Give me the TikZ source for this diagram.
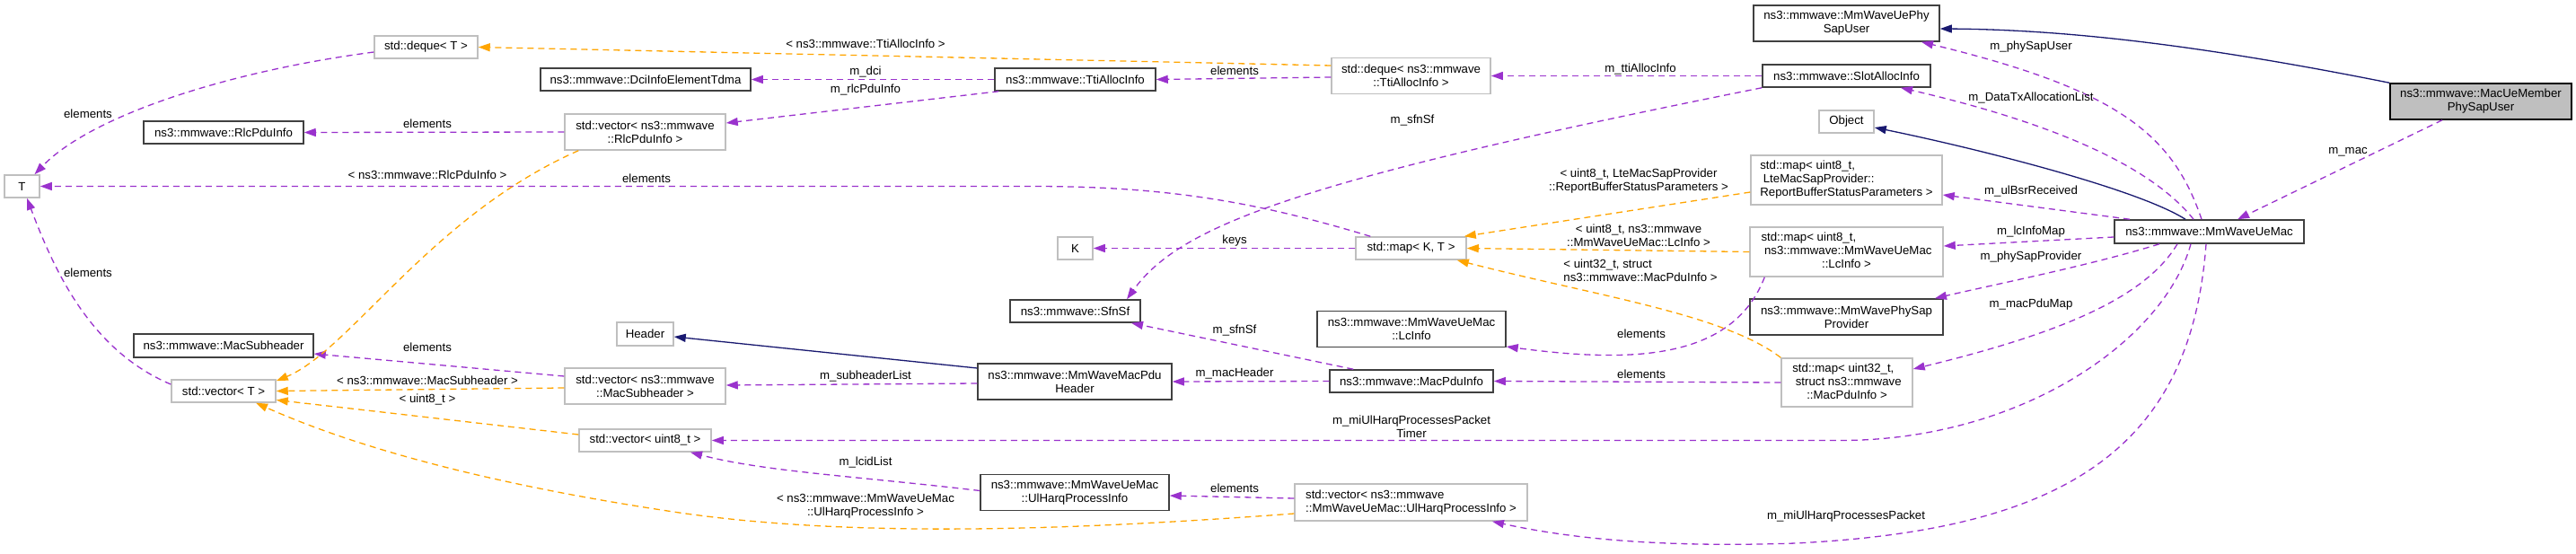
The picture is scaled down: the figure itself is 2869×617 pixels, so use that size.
\documentclass[tikz,border=0pt]{standalone}
\usepackage{fontspec}
\setmainfont{Liberation Sans}
\usetikzlibrary{arrows.meta}
\definecolor{usecol}{HTML}{9A32CD}
\definecolor{tplcol}{HTML}{FFA500}
\definecolor{inhcol}{HTML}{191970}
\definecolor{gbord}{HTML}{BFBFBF}
\definecolor{bbord}{HTML}{404040}
\definecolor{gfill}{HTML}{BFBFBF}
\begin{document}
\begin{tikzpicture}[x=1pt,y=-1pt,
  font=\fontsize{13.25}{15}\selectfont,
  box/.style={inner sep=0pt, align=center, line width=1.5pt, fill=white},
  gbox/.style={box, draw=gbord},
  bbox/.style={box, draw=bbord},
  lbl/.style={inner sep=0pt, align=center},
  edge/.style={line width=1.3pt, dash pattern=on 7pt off 5pt},
  use/.style={edge, draw=usecol, -{Triangle[length=13pt,width=9pt,fill=usecol]}},
  tpl/.style={edge, draw=tplcol, -{Triangle[length=13pt,width=9pt,fill=tplcol]}},
  inh/.style={line width=1.3pt, draw=inhcol, -{Triangle[length=13pt,width=9pt,fill=inhcol]}}]
\fill[white] (0,0) rectangle (2869,617);
\useasboundingbox (0,0) rectangle (2869,617);

% nodes
\node[gbox, minimum width=115pt, minimum height=25pt] (dequeT) at (474.5,52.5) {std::deque< T >};
\node[bbox, minimum width=234pt, minimum height=25pt] (dci) at (719,88.5) {ns3::mmwave::DciInfoElementTdma};
\node[bbox, minimum width=178pt, minimum height=25pt] (rlcpdu) at (249,147.5) {ns3::mmwave::RlcPduInfo};
\node[gbox, minimum width=179pt, minimum height=40pt] (vecRlc) at (718.5,147) {std::vector< ns3::mmwave\\::RlcPduInfo >};
\node[gbox, minimum width=39pt, minimum height=25pt] (T) at (24.5,207.5) {T};
\node[bbox, minimum width=200pt, minimum height=26pt] (macsub) at (249,385) {ns3::mmwave::MacSubheader};
\node[gbox, minimum width=116pt, minimum height=25pt] (vecT) at (249,435.5) {std::vector< T >};
\node[gbox, minimum width=63pt, minimum height=26pt] (header) at (718.5,372) {Header};
\node[gbox, minimum width=179pt, minimum height=40pt] (vecMacSub) at (718.5,430) {std::vector< ns3::mmwave\\::MacSubheader >};
\node[gbox, minimum width=147pt, minimum height=25pt] (vecU8) at (718.5,490.5) {std::vector< uint8\_t >};
\node[bbox, minimum width=179pt, minimum height=25pt] (tti) at (1197.5,88.5) {ns3::mmwave::TtiAllocInfo};
\node[gbox, minimum width=39pt, minimum height=25pt] (K) at (1197.5,276.5) {K};
\node[bbox, minimum width=145pt, minimum height=25pt] (sfnsf) at (1197.5,346.5) {ns3::mmwave::SfnSf};
\node[bbox, minimum width=216pt, minimum height=40pt] (pduhdr) at (1197,425) {ns3::mmwave::MmWaveMacPdu\\Header};
\node[bbox, minimum width=210pt, minimum height=40pt] (ulharq) at (1197,548.5) {ns3::mmwave::MmWaveUeMac\\::UlHarqProcessInfo};
\node[gbox, minimum width=177pt, minimum height=40pt] (dequeTti) at (1571.5,84.5) {std::deque< ns3::mmwave\\::TtiAllocInfo >};
\node[gbox, minimum width=123pt, minimum height=25pt] (mapKT) at (1571.5,276.5) {std::map< K, T >};
\node[bbox, minimum width=210pt, minimum height=40pt] (lcinfo) at (1572,366.5) {ns3::mmwave::MmWaveUeMac\\::LcInfo};
\node[bbox, minimum width=182pt, minimum height=25pt] (macpdu) at (1572,424.5) {ns3::mmwave::MacPduInfo};
\node[gbox, minimum width=259pt, minimum height=41pt] (vecUlHarq) at (1571.5,559.5) {\begin{tabular}{@{}l@{}}std::vector< ns3::mmwave\\\multicolumn{1}{@{}c@{}}{::MmWaveUeMac::UlHarqProcessInfo >}\end{tabular}};
\node[bbox, minimum width=187pt, minimum height=25pt] (slot) at (2056.5,84.5) {ns3::mmwave::SlotAllocInfo};
\node[bbox, minimum width=207pt, minimum height=40pt] (phyuser) at (2056.5,26) {ns3::mmwave::MmWaveUePhy\\SapUser};
\node[gbox, minimum width=61pt, minimum height=25pt] (object) at (2056.5,135.5) {Object};
\node[gbox, minimum width=213pt, minimum height=55pt] (mapBsr) at (2056.5,200.5) {\begin{tabular}{@{}l@{}}std::map< uint8\_t,\\\hspace*{3.5pt}LteMacSapProvider::\\\multicolumn{1}{@{}c@{}}{ReportBufferStatusParameters >}\end{tabular}};
\node[gbox, minimum width=215pt, minimum height=55pt] (mapLc) at (2056.5,280.5) {\begin{tabular}{@{}l@{}}std::map< uint8\_t,\\\hspace*{3.5pt}ns3::mmwave::MmWaveUeMac\\\multicolumn{1}{@{}c@{}}{::LcInfo >}\end{tabular}};
\node[bbox, minimum width=215pt, minimum height=40pt] (physapprov) at (2056.5,353) {ns3::mmwave::MmWavePhySap\\Provider};
\node[gbox, minimum width=146pt, minimum height=54pt] (mapPdu) at (2057,426) {\begin{tabular}{@{}l@{}}std::map< uint32\_t,\\\hspace*{3.5pt}struct ns3::mmwave\\\multicolumn{1}{@{}c@{}}{::MacPduInfo >}\end{tabular}};
\node[box, draw=black, fill=gfill, minimum width=202pt, minimum height=40pt] (memberUser) at (2763,113) {ns3::mmwave::MacUeMember\\PhySapUser};
\node[bbox, minimum width=211pt, minimum height=26pt] (uemac) at (2460.5,258) {ns3::mmwave::MmWaveUeMac};

% inheritance
\draw[inh] (memberUser.north west) .. controls (2450,50) and (2300,33) .. ([shift={(0,6)}]phyuser.east);
\draw[inh] ([shift={(-26.5,0)}]uemac.north) .. controls (2380,210) and (2200,165) .. ([shift={(0,6.5)}]object.east);
\draw[inh] ([shift={(0,-15)}]pduhdr.west) -- ([shift={(0,3)}]header.east);

% usage edges from MmWaveUeMac
\draw[use] ([shift={(-43,0)}]memberUser.south) -- ([shift={(31.5,0)}]uemac.north);
\draw[use] ([shift={(-8.5,0)}]uemac.north) .. controls (2420,150) and (2360,100) .. ([shift={(83.5,0)}]phyuser.south);
\draw[use] ([shift={(-17.5,0)}]uemac.north) .. controls (2400,190) and (2300,140) .. ([shift={(60.5,0)}]slot.south);
\draw[use] ([shift={(-88.5,0)}]uemac.north) -- ([shift={(0,16.5)}]mapBsr.east);
\draw[use] ([shift={(0,6)}]uemac.west) -- ([shift={(0,-6.5)}]mapLc.east);
\draw[use] ([shift={(-55.5,0)}]uemac.south) .. controls (2330,295) and (2230,315) .. ([shift={(98.5,0)}]physapprov.north);
\draw[use] ([shift={(-35.5,0)}]uemac.south) .. controls (2390,330) and (2300,370) .. ([shift={(0,-15)}]mapPdu.east);
\draw[use] ([shift={(-20.5,0)}]uemac.south) .. controls (2410,380) and (2250,490.5) .. (2050,490.5) -- (vecU8.east);
\draw[use] ([shift={(-3.5,0)}]uemac.south) .. controls (2440,500) and (2300,590) .. (2000,605) .. controls (1850,610) and (1750,600) .. ([shift={(90.5,0)}]vecUlHarq.south);

% other usage edges
\draw[use] (slot.west) -- (dequeTti.east);
\draw[use] (slot.south west) .. controls (1450,200) and (1315,250) .. ([shift={(57.5,0)}]sfnsf.north);
\draw[use] ([shift={(0,1.5)}]dequeTti.west) -- (tti.east);
\draw[use] (tti.west) -- (dci.east);
\draw[use] ([shift={(5,0)}]tti.south west) -- ([shift={(0,-10)}]vecRlc.east);
\draw[use] (vecRlc.west) -- (rlcpdu.east);
\draw[use] ([shift={(0,5.5)}]dequeT.west) .. controls (250,80) and (100,130) .. ([shift={(14,0)}]T.north);
\draw[use] ([shift={(17,0)}]mapKT.north west) .. controls (1400,225) and (1300,207.5) .. (1150,207.5) -- (T.east);
\draw[use] (mapKT.west) -- (K.east);
\draw[use] ([shift={(17,0)}]mapLc.south west) .. controls (1930,400) and (1820,405) .. ([shift={(0,19.5)}]lcinfo.east);
\draw[use] (mapPdu.west) -- (macpdu.east);
\draw[use] (macpdu.west) -- (pduhdr.east);
\draw[use] ([shift={(27,0)}]macpdu.north west) -- ([shift={(62.5,0)}]sfnsf.south);
\draw[use] ([shift={(0,2)}]pduhdr.west) -- ([shift={(0,-1)}]vecMacSub.east);
\draw[use] ([shift={(0,-11)}]vecMacSub.west) -- ([shift={(0,9)}]macsub.east);
\draw[use] ([shift={(0,-7.5)}]vecT.west) .. controls (100,390) and (60,300) .. ([shift={(5.5,0)}]T.south);
\draw[use] ([shift={(0,-2)}]ulharq.west) .. controls (950,530) and (850,525) .. ([shift={(50.5,0)}]vecU8.south);
\draw[use] ([shift={(0,-4.5)}]vecUlHarq.west) -- ([shift={(0,3.5)}]ulharq.east);

% template edges
\draw[tpl] ([shift={(0,-11.5)}]dequeTti.west) -- (dequeT.east);
\draw[tpl] ([shift={(16,0)}]vecRlc.south west) .. controls (480,240) and (390,390) .. ([shift={(0,2)}]vecT.north east);
\draw[tpl] ([shift={(0,2)}]vecMacSub.west) -- (vecT.east);
\draw[tpl] ([shift={(0,-6.5)}]vecU8.west) -- ([shift={(0,10)}]vecT.east);
\draw[tpl] ([shift={(0,12.5)}]vecUlHarq.west) .. controls (1200,590) and (950,600) .. (750,570) .. controls (550,540) and (400,500) .. ([shift={(36,0)}]vecT.south);
\draw[tpl] ([shift={(0,13.5)}]mapBsr.west) -- ([shift={(-3,0)}]mapKT.north east);
\draw[tpl] (mapLc.west) -- (mapKT.east);
\draw[tpl] (mapPdu.north west) .. controls (1920,350) and (1780,330) .. ([shift={(-11,0)}]mapKT.south east);

% labels
\node[lbl] (l1) at (98,127) {elements};
\node[lbl] (l2) at (476,138) {elements};
\node[lbl] (l3) at (476,195) {< ns3::mmwave::RlcPduInfo >};
\node[lbl] (l4) at (720,199) {elements};
\node[lbl] (l5) at (964,49) {< ns3::mmwave::TtiAllocInfo >};
\node[lbl] (l6) at (964,80) {m\_dci};
\node[lbl] (l7) at (964,100) {m\_rlcPduInfo};
\node[lbl] (l8) at (1375,79) {elements};
\node[lbl] (l9) at (1375,268) {keys};
\node[lbl] (l10) at (1827,77) {m\_ttiAllocInfo};
\node[lbl] (l11) at (1573,134) {m\_sfnSf};
\node[lbl] (l12) at (1825,201.5) {< uint8\_t, LteMacSapProvider\\::ReportBufferStatusParameters >};
\node[lbl] (l13) at (1825,262) {< uint8\_t, ns3::mmwave\\::MmWaveUeMac::LcInfo >};
\node[lbl, align=left] (l14) at (1827,301) {< uint32\_t, struct\\ns3::mmwave::MacPduInfo >};
\node[lbl] (l15) at (2262,52) {m\_phySapUser};
\node[lbl] (l16) at (2262,109) {m\_DataTxAllocationList};
\node[lbl] (l17) at (2262,213) {m\_ulBsrReceived};
\node[lbl] (l18) at (2262,258) {m\_lcInfoMap};
\node[lbl] (l19) at (2262,286) {m\_phySapProvider};
\node[lbl] (l20) at (2615,169) {m\_mac};
\node[lbl] (l21) at (2262,339) {m\_macPduMap};
\node[lbl] (l22) at (1828,372) {elements};
\node[lbl] (l23) at (1828,417) {elements};
\node[lbl] (l24) at (1572,475) {m\_miUlHarqProcessesPacket\\Timer};
\node[lbl] (l25) at (2056,575) {m\_miUlHarqProcessesPacket};
\node[lbl] (l26) at (1375,368) {m\_sfnSf};
\node[lbl] (l27) at (964,419) {m\_subheaderList};
\node[lbl] (l28) at (1375,416) {m\_macHeader};
\node[lbl] (l29) at (964,515) {m\_lcidList};
\node[lbl] (l30) at (1375,544) {elements};
\node[lbl] (l31) at (964,563.5) {< ns3::mmwave::MmWaveUeMac\\::UlHarqProcessInfo >};
\node[lbl] (l32) at (476,387) {elements};
\node[lbl] (l33) at (476,424) {< ns3::mmwave::MacSubheader >};
\node[lbl] (l34) at (476,445) {< uint8\_t >};
\node[lbl] (l35) at (98,304) {elements};
\end{tikzpicture}
\end{document}
